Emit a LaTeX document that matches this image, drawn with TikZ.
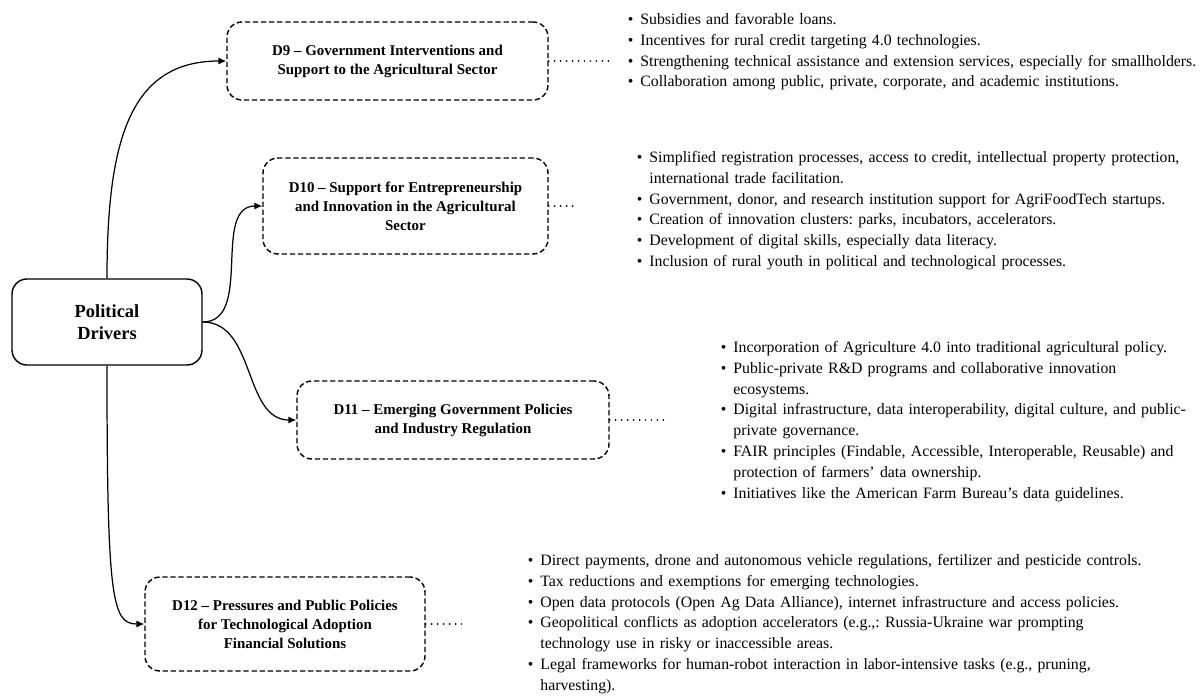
\documentclass[tikz,border=0pt]{standalone}
\usepackage{fontspec}
\setmainfont{Liberation Serif}
\usepackage{enumitem}
\usepackage{tikz}
\usetikzlibrary{arrows.meta}
\setlist[itemize]{label=\textbullet, leftmargin=7.4pt, labelsep=4pt, itemsep=0pt, topsep=0pt, parsep=0pt, partopsep=0pt}
\frenchspacing

\begin{document}
\begin{tikzpicture}[x=0.02cm, y=-0.02cm,
    polbox/.style={draw, line width=0.8pt, rounded corners=8.5pt, align=center,
      minimum width=3.8cm, minimum height=1.72cm, font=\bfseries\fontsize{10.5}{12.5}\selectfont},
    drvbox/.style={draw, line width=0.8pt, dash pattern=on 3pt off 1.6pt, rounded corners=8.5pt,
      align=center, font=\bfseries\fontsize{8.5}{10.8}\selectfont},
    bullets/.style={anchor=north west, inner sep=0pt, text width=#1, align=left,
      font=\fontsize{9}{11.9}\selectfont},
    dotline/.style={line width=1.1pt, line cap=round, dash pattern=on 0pt off 3.4pt},
    link/.style={line width=0.7pt, -{Latex[length=4.5pt,width=4pt]}}]
  \useasboundingbox (0,0) rectangle (1201,697);

  \node[polbox] (pol) at (107,322) {Political\\Drivers};
  \node[drvbox, minimum width=6.42cm, minimum height=1.56cm] (d9) at (387.5,61)
    {D9 -- Government Interventions and\\ Support to the Agricultural Sector};
  \node[drvbox, minimum width=5.7cm, minimum height=1.92cm] (d10) at (405.5,206)
    {D10 -- Support for Entrepreneurship\\and Innovation in the Agricultural\\Sector};
  \node[drvbox, minimum width=6.24cm, minimum height=1.56cm] (d11) at (453,420)
    {D11 -- Emerging Government Policies\\and Industry Regulation};
  \node[drvbox, minimum width=5.6cm, minimum height=1.88cm] (d12) at (285,624)
    {D12 -- Pressures and Public Policies\\for Technological Adoption\\Financial Solutions};

  \draw[link] (pol.north) .. controls (107,140) and (130,61) .. (d9.west);
  \draw[link] (pol.east) to[out=0, in=180] (d10.west);
  \draw[link] (pol.east) to[out=0, in=180] (d11.west);
  \draw[link] (pol.south) .. controls (107,600) and (112,624) .. (d12.west);

  \coordinate (d9e) at (612,61);
  \coordinate (d10e) at (575,206);
  \coordinate (d11e) at (668,420);
  \coordinate (d12e) at (462,624);
  \draw[dotline] (d9.east) -- (d9e);
  \draw[dotline] (d10.east) -- (d10e);
  \draw[dotline] (d11.east) -- (d11e);
  \draw[dotline] (d12.east) -- (d12e);

  \node[bullets=11.8cm] (l9) at (627,3) {\begin{itemize}
    \item Subsidies and favorable loans.
    \item Incentives for rural credit targeting 4.0 technologies.
    \item Strengthening technical assistance and extension services, especially for smallholders.
    \item Collaboration among public, private, corporate, and academic institutions.
  \end{itemize}};
  \node[bullets=11cm] (l10) at (636,141) {\begin{itemize}
    \item Simplified registration processes, access to credit, intellectual property protection,\newline international trade facilitation.
    \item Government, donor, and research institution support for AgriFoodTech startups.
    \item Creation of innovation clusters: parks, incubators, accelerators.
    \item Development of digital skills, especially data literacy.
    \item Inclusion of rural youth in political and technological processes.
  \end{itemize}};
  \node[bullets=9.5cm] (l11) at (720,331) {\begin{itemize}
    \item Incorporation of Agriculture 4.0 into traditional agricultural policy.
    \item Public-private R\&D programs and collaborative innovation\newline ecosystems.
    \item Digital infrastructure, data interoperability, digital culture, and public-\newline private governance.
    \item FAIR principles (Findable, Accessible, Interoperable, Reusable) and\newline protection of farmers’ data ownership.
    \item Initiatives like the American Farm Bureau’s data guidelines.
  \end{itemize}};
  \node[bullets=13.5cm] (l12) at (527,544) {\begin{itemize}
    \item Direct payments, drone and autonomous vehicle regulations, fertilizer and pesticide controls.
    \item Tax reductions and exemptions for emerging technologies.
    \item Open data protocols (Open Ag Data Alliance), internet infrastructure and access policies.
    \item Geopolitical conflicts as adoption accelerators (e.g.,: Russia-Ukraine war prompting\newline technology use in risky or inaccessible areas.
    \item Legal frameworks for human-robot interaction in labor-intensive tasks (e.g., pruning,\newline harvesting).
  \end{itemize}};
\end{tikzpicture}
\end{document}
